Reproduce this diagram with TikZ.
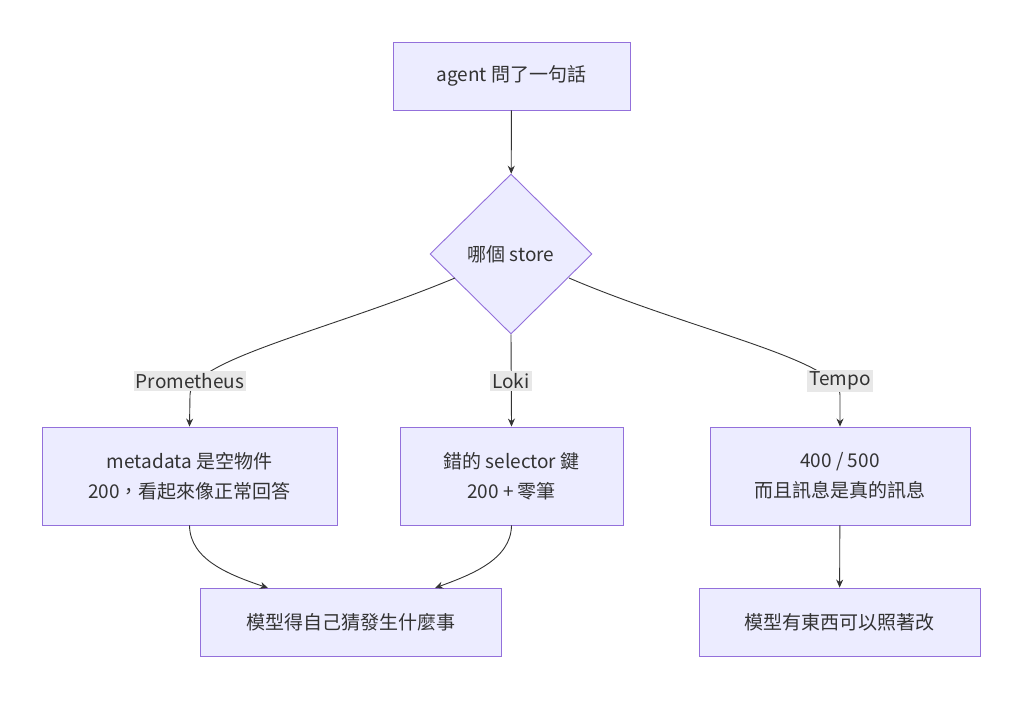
\documentclass[tikz,border=0pt]{standalone}
\usepackage{fontspec}
\setmainfont{Noto Sans CJK TC}
\usetikzlibrary{shapes.geometric,arrows.meta}
\definecolor{nf}{HTML}{ECECFF}
\definecolor{nb}{HTML}{9370DB}
\definecolor{tx}{HTML}{333333}
\definecolor{lb}{HTML}{E8E8E8}
\begin{document}
\begin{tikzpicture}[x=1pt,y=-1pt,
 box/.style={draw=nb,fill=nf,line width=0.9pt,text=tx,font=\fontsize{19}{30}\selectfont,align=center,inner sep=0pt},
 lab/.style={fill=lb,text=tx,font=\fontsize{19}{22}\selectfont,inner sep=2pt},
 e/.style={draw=tx,line width=0.9pt,-{Stealth[length=8pt,width=7pt]}}]
\useasboundingbox (0,0) rectangle (1024,712);
\node[box,minimum width=237pt,minimum height=68pt] (t) at (511.5,76) {agent 問了一句話};
\node[box,diamond,minimum width=162pt,minimum height=160pt] (d) at (511,254) {哪個 store};
\node[box,minimum width=295pt,minimum height=98pt] (a) at (189.5,476) {metadata 是空物件\\200，看起來像正常回答};
\node[box,minimum width=223pt,minimum height=98pt] (b) at (511.5,476) {錯的 selector 鍵\\200 + 零筆};
\node[box,minimum width=260pt,minimum height=98pt] (c) at (840,476) {400 / 500\\而且訊息是真的訊息};
\node[box,minimum width=301pt,minimum height=68pt] (dd) at (350.5,622) {模型得自己猜發生什麼事};
\node[box,minimum width=281pt,minimum height=68pt] (ee) at (839.5,622) {模型有東西可以照著改};
\coordinate (dl) at (455,278);
\coordinate (dr) at (569,278);
\draw[e] (t) -- (d);
\draw[e] (dl) .. controls (330,330) and (190,360) .. (190,395) -- (a.north);
\draw[e] (d.south) -- (b.north);
\draw[e] (dr) .. controls (690,330) and (840,360) .. (840,395) -- (c.north);
\node[lab] (lp) at (190,381) {Prometheus};
\node[lab] (ll) at (511,381) {Loki};
\node[lab] (lt) at (840,381) {Tempo};
\draw[e] (a.south) .. controls (190,560) and (230,575) .. (268,588);
\draw[e] (b.south) .. controls (511,560) and (470,575) .. (435,588);
\draw[e] (c) -- (ee);
\end{tikzpicture}
\end{document}
